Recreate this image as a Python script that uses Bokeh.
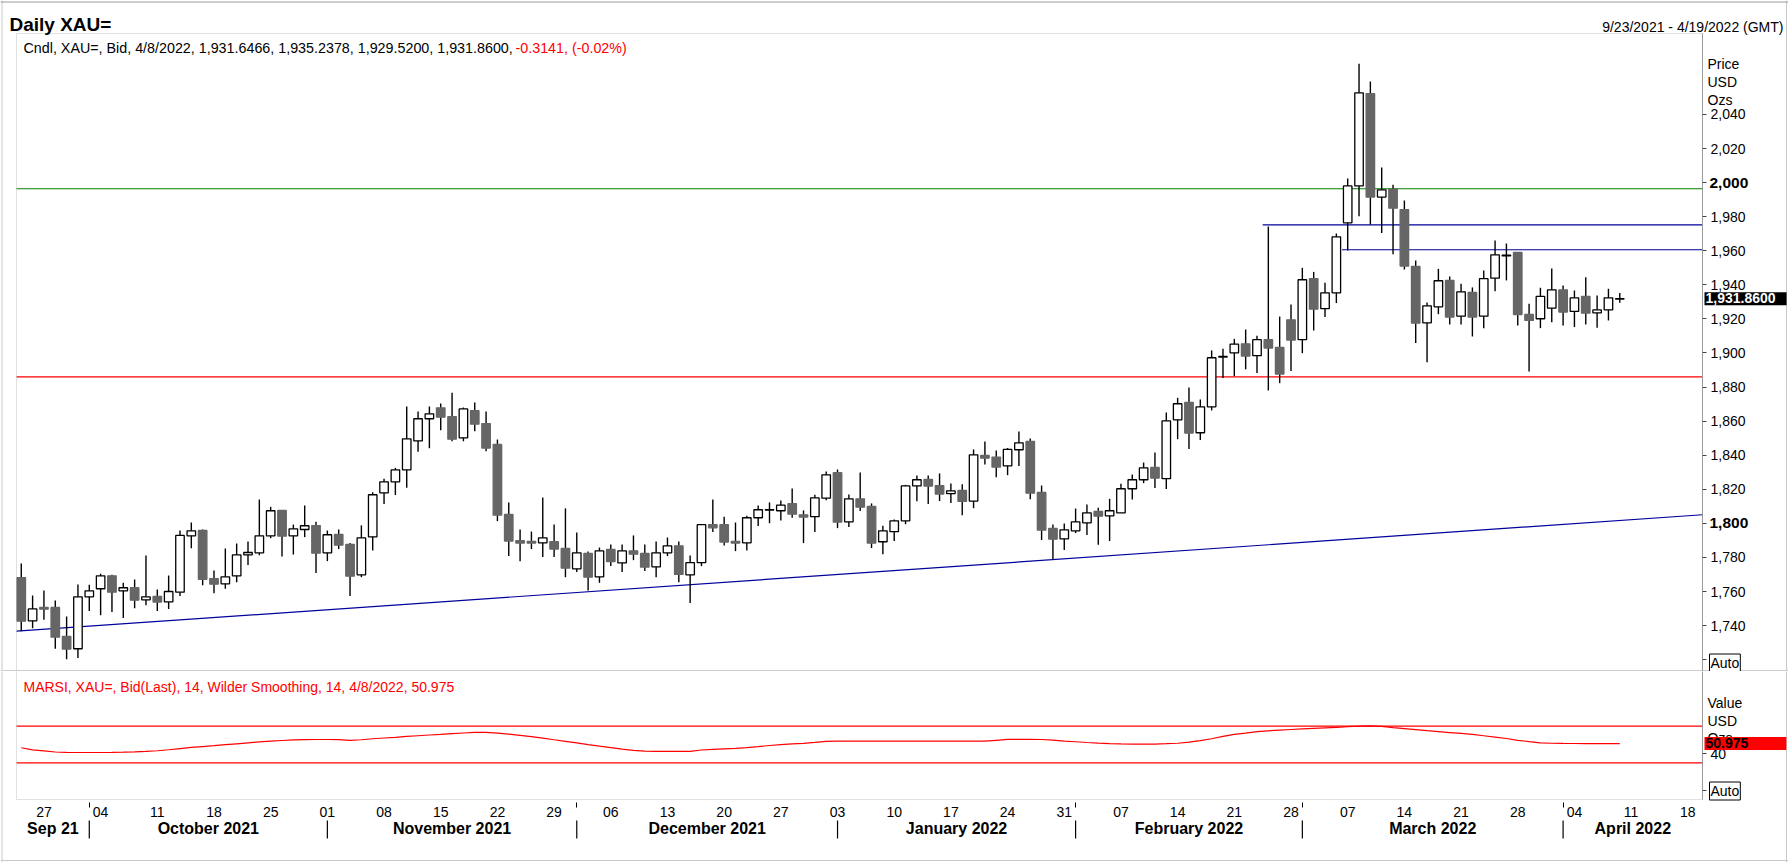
import pandas as pd
from bokeh.plotting import figure
from bokeh.models import (Range1d, LinearAxis, FixedTicker, NumeralTickFormatter,
                          Label, Span, BoxAnnotation, ColumnDataSource)
from bokeh.layouts import column
from bokeh.embed import file_html
from bokeh.resources import INLINE

FONT = "Liberation Sans"

# ---------------- data ----------------
first_day = "2021-09-23"
axis_last_day = "2022-04-19"

opens = [1768.2, 1742.8, 1750.6, 1750.6, 1733.6, 1726.4, 1756.9, 1761.6, 1769.2, 1760.4,
         1762.2, 1755.1, 1757.1, 1753.9, 1759.6, 1792.7, 1795.8, 1767.6, 1764.5, 1769.2,
         1781.5, 1782.7, 1792.7, 1807.6, 1792.7, 1796.4, 1798.7, 1782.7, 1793.5, 1787.6,
         1769.8, 1792.1, 1817.9, 1824.4, 1831.4, 1848.4, 1861.4, 1867.8, 1862.7, 1850.2,
         1866.2, 1858.6, 1846.3, 1805.2, 1789.8, 1789.4, 1788.6, 1789.2, 1785.3, 1773.3,
         1782.3, 1768.6, 1784.7, 1776.8, 1783.9, 1782.3, 1774.5, 1782.7, 1786.8, 1769.8,
         1776.9, 1799.2, 1799.2, 1789.4, 1788.6, 1803.3, 1807.8, 1807.4, 1811.5, 1805.0,
         1803.9, 1814.8, 1829.7, 1800.9, 1814.4, 1809.9, 1789.2, 1795.1, 1801.5, 1822.0,
         1825.8, 1822.2, 1817.4, 1819.3, 1813.1, 1839.9, 1838.9, 1833.8, 1843.2, 1848.1,
         1818.1, 1797.0, 1790.9, 1795.6, 1800.3, 1807.0, 1804.4, 1806.2, 1820.3, 1825.6,
         1832.8, 1826.2, 1860.8, 1871.0, 1853.2, 1868.4, 1897.6, 1900.1, 1905.4, 1898.4,
         1907.8, 1903.3, 1919.5, 1907.8, 1943.7, 1926.0, 1935.3, 1976.4, 1998.1, 2052.3,
         1991.5, 1996.2, 1984.2, 1950.8, 1917.7, 1927.1, 1942.6, 1921.6, 1935.5, 1921.6,
         1943.9, 1957.0, 1959.0, 1922.6, 1920.1, 1926.3, 1937.1, 1924.4, 1933.2, 1923.6,
         1925.3, 1931.6466]
highs = [1776.4, 1757.7, 1760.6, 1754.7, 1745.3, 1764.1, 1763.9, 1770.4, 1769.8, 1765.1,
         1767.1, 1781.1, 1761.2, 1769.4, 1795.8, 1800.5, 1796.4, 1772.3, 1785.2, 1788.2,
         1789.4, 1814.0, 1809.7, 1807.9, 1799.3, 1810.5, 1800.9, 1795.8, 1796.4, 1788.4,
         1798.8, 1818.3, 1826.2, 1832.6, 1868.6, 1865.7, 1868.6, 1870.4, 1876.6, 1868.0,
         1871.0, 1865.7, 1849.2, 1812.3, 1796.4, 1795.2, 1815.2, 1799.4, 1808.8, 1794.6,
         1783.5, 1785.8, 1787.6, 1787.6, 1792.9, 1787.6, 1789.4, 1791.7, 1789.4, 1781.2,
         1799.2, 1814.0, 1803.9, 1800.5, 1804.4, 1810.5, 1812.3, 1813.4, 1820.5, 1807.6,
         1816.8, 1830.5, 1831.6, 1817.0, 1829.9, 1811.7, 1798.6, 1802.3, 1822.6, 1828.1,
         1828.1, 1829.3, 1823.4, 1823.0, 1843.4, 1848.1, 1842.8, 1844.2, 1853.9, 1849.8,
         1822.2, 1799.4, 1799.9, 1808.7, 1811.1, 1809.1, 1814.4, 1823.2, 1828.7, 1835.7,
         1841.6, 1865.1, 1873.7, 1879.8, 1872.7, 1901.5, 1902.5, 1908.3, 1913.8, 1910.1,
         1974.3, 1921.4, 1928.5, 1950.0, 1947.6, 1941.2, 1970.2, 2002.4, 2069.8, 2059.4,
         2008.9, 1998.7, 1989.5, 1954.3, 1929.7, 1949.4, 1944.9, 1940.6, 1938.5, 1948.4,
         1966.1, 1964.3, 1959.0, 1928.9, 1938.3, 1949.6, 1939.6, 1936.7, 1944.5, 1933.8,
         1937.7, 1935.2378]
lows = [1736.7, 1738.5, 1743.4, 1726.4, 1720.3, 1720.9, 1748.5, 1746.1, 1747.9, 1744.4,
        1750.2, 1752.0, 1748.5, 1749.7, 1757.3, 1785.4, 1763.7, 1759.0, 1761.6, 1765.5,
        1775.5, 1781.3, 1791.3, 1780.6, 1781.7, 1791.9, 1770.8, 1777.8, 1784.9, 1757.3,
        1768.4, 1784.1, 1811.3, 1816.6, 1820.9, 1842.0, 1844.1, 1854.7, 1848.2, 1848.2,
        1854.1, 1842.4, 1801.3, 1780.8, 1777.8, 1784.9, 1780.2, 1780.2, 1768.4, 1771.4,
        1760.6, 1765.1, 1774.9, 1771.4, 1778.4, 1772.0, 1768.4, 1780.8, 1765.5, 1753.2,
        1774.9, 1794.9, 1787.0, 1783.7, 1784.1, 1798.4, 1800.1, 1801.7, 1803.3, 1788.4,
        1794.9, 1813.6, 1797.2, 1797.8, 1807.2, 1785.5, 1781.9, 1789.6, 1799.5, 1813.0,
        1811.3, 1813.1, 1811.9, 1804.8, 1808.9, 1834.6, 1827.1, 1828.3, 1833.6, 1814.2,
        1790.2, 1778.6, 1784.3, 1794.3, 1793.1, 1787.4, 1789.6, 1806.2, 1814.0, 1823.6,
        1820.7, 1820.1, 1849.4, 1843.6, 1848.9, 1866.3, 1885.3, 1886.4, 1890.4, 1888.2,
        1878.0, 1882.3, 1889.4, 1899.9, 1913.2, 1921.1, 1929.3, 1960.2, 1980.3, 1975.5,
        1970.4, 1958.0, 1949.0, 1905.8, 1894.6, 1922.8, 1916.8, 1916.8, 1909.7, 1914.6,
        1936.3, 1942.6, 1916.2, 1889.1, 1914.6, 1918.1, 1916.1, 1915.2, 1916.7, 1914.8,
        1919.1, 1929.52]
closes = [1742.6, 1749.8, 1749.6, 1733.2, 1726.2, 1756.9, 1760.4, 1769.2, 1759.6, 1762.2,
          1754.9, 1756.9, 1753.8, 1760.0, 1792.9, 1795.6, 1767.2, 1764.3, 1768.6, 1781.5,
          1782.9, 1792.7, 1807.4, 1792.5, 1796.8, 1798.6, 1782.5, 1793.3, 1787.2, 1769.0,
          1791.5, 1816.8, 1824.4, 1831.4, 1849.6, 1861.4, 1864.3, 1862.3, 1849.4, 1867.2,
          1858.2, 1844.2, 1804.8, 1789.6, 1788.4, 1788.4, 1791.5, 1784.9, 1773.7, 1782.7,
          1768.4, 1783.9, 1777.6, 1783.9, 1781.9, 1774.3, 1782.7, 1786.8, 1770.0, 1776.9,
          1799.2, 1797.4, 1789.0, 1788.4, 1803.3, 1808.0, 1808.1, 1810.7, 1805.4, 1803.7,
          1815.0, 1828.5, 1800.7, 1814.4, 1809.5, 1788.4, 1795.6, 1801.5, 1822.0, 1825.6,
          1821.9, 1817.2, 1819.1, 1812.9, 1840.2, 1838.3, 1833.0, 1843.4, 1847.3, 1817.7,
          1796.0, 1790.7, 1796.2, 1800.9, 1806.2, 1804.2, 1807.4, 1820.3, 1825.6, 1832.6,
          1826.6, 1860.2, 1870.2, 1853.0, 1868.4, 1897.2, 1898.0, 1905.2, 1898.2, 1907.8,
          1902.9, 1887.6, 1907.6, 1943.0, 1925.7, 1935.3, 1968.2, 1998.1, 2052.7, 1991.5,
          1995.8, 1985.0, 1951.0, 1917.5, 1927.7, 1942.4, 1921.1, 1935.9, 1921.1, 1943.6,
          1957.6, 1957.4, 1922.6, 1919.1, 1933.2, 1937.1, 1924.0, 1932.4, 1923.4, 1925.3,
          1932.4, 1931.86]
rsi = [46.5, 44.2, 43.0, 41.8, 41.5, 41.3, 41.3, 41.3, 41.4, 41.6,
       42.0, 42.5, 43.2, 44.3, 45.6, 46.9, 47.8, 48.7, 49.8, 50.8,
       51.8, 52.8, 53.7, 54.4, 55.0, 55.4, 55.5, 55.5, 55.4, 54.6,
       55.2, 56.3, 57.1, 57.9, 58.8, 59.6, 60.4, 61.0, 61.8, 62.6,
       63.2, 63.2, 62.4, 61.3, 60.0, 58.6, 57.0, 55.2, 53.5, 51.8,
       49.9, 48.2, 46.6, 45.0, 43.5, 42.8, 42.5, 42.4, 42.4, 42.6,
       44.0, 44.6, 45.2, 45.7, 46.6, 47.7, 48.9, 49.8, 50.6, 51.3,
       52.3, 53.4, 53.6, 53.6, 53.6, 53.6, 53.6, 53.6, 53.6, 53.6,
       53.6, 53.6, 53.6, 53.6, 53.6, 53.6, 54.6, 55.6, 55.7, 55.7,
       55.5, 54.7, 53.8, 53.0, 52.2, 51.5, 51.0, 50.7, 50.5, 50.4,
       50.5, 50.9, 51.4, 52.6, 54.2, 56.3, 58.9, 61.0, 62.4, 64.0,
       65.0, 65.8, 66.4, 67.0, 67.6, 68.2, 68.8, 69.5, 70.2, 70.3,
       69.9, 68.4, 67.4, 66.3, 65.1, 64.1, 63.1, 62.1, 61.0, 59.6,
       58.1, 56.6, 54.6, 53.2, 51.9, 51.4, 51.2, 51.1, 51.0, 51.0,
       51.0, 50.975]

level_green = 1996.4
level_red = 1886.0
blue_levels = [1975.2, 1960.6]
blue_level_start_days = ["2022-02-24", "2022-03-07"]
trend_days = ["2021-09-23", "2022-04-19"]
trend_values = [1736.9, 1804.9]

price_ticks = [1720, 1740, 1760, 1780, 1800, 1820, 1840, 1860, 1880, 1900,
               1920, 1940, 1960, 1980, 2000, 2020, 2040]
bold_price_ticks = [1800, 2000]
rsi_levels = [70, 30]
rsi_ticks = [0, 40]
month_labels = ["Sep 21", "October 2021", "November 2021", "December 2021",
                "January 2022", "February 2022", "March 2022", "April 2022"]

header_black = "Cndl, XAU=, Bid, 4/8/2022, 1,931.6466, 1,935.2378, 1,929.5200, 1,931.8600, "
header_red = "-0.3141, (-0.02%)"
rsi_header = "MARSI, XAU=, Bid(Last),  14, Wilder Smoothing, 14, 4/8/2022, 50.975"
date_span_text = "9/23/2021 - 4/19/2022 (GMT)"

# ---------------- derived ----------------
days = pd.bdate_range(first_day, axis_last_day)
day_pos = {d: i for i, d in enumerate(days)}
n = len(closes)
idx = list(range(n))

monday_idx = [i for i, d in enumerate(days) if d.weekday() == 0]
day_label_map = {i: "%02d" % days[i].day for i in monday_idx}
month_start_idx = [i for i in range(1, len(days)) if days[i].month != days[i - 1].month]
short_tick_idx = [i for i in month_start_idx if i not in monday_idx]

# plot-area (frame box) edges in day-index units and the full canvas extent
X0, X1 = -0.42, 148.3
PX_PER_DAY = 11.337
CX0 = X0 - 16 / PX_PER_DAY
CX1 = CX0 + 1788 / PX_PER_DAY

bounds = [X0] + month_start_idx + [X1]
month_centers = [(bounds[k] + bounds[k + 1]) / 2 for k in range(len(bounds) - 1)]
month_map = {c: lab for c, lab in zip(month_centers, month_labels)}

bull = [c >= o for o, c in zip(opens, closes)]
GRAY = "#666666"
src = ColumnDataSource(dict(
    x=idx, high=highs, low=lows,
    top=[max(o, c) for o, c in zip(opens, closes)],
    bottom=[min(o, c) for o, c in zip(opens, closes)],
    fill=["white" if b else GRAY for b in bull],
    line=["black" if b else GRAY for b in bull],
))

W = 1788
H1 = 671
H2 = 191
FRAME_GRAY = "#9a9a9a"
OUTER_GRAY = "#c8c8c8"
BLUE = "#00009c"
xr = Range1d(CX0, CX1)

P_TOP, P_BOT = 2087.55, 1713.04        # price panel box
R_TOP, R_BOT = 129.8, -10.1            # rsi panel box
RSI_PX = 0.915


def base_fig(h, yr):
    f = figure(width=W, height=h, x_range=xr, y_range=yr,
               output_backend="svg", toolbar_location=None, title=None,
               x_axis_location=None, y_axis_location=None,
               min_border_left=0, min_border_right=0, min_border_top=0, min_border_bottom=0,
               outline_line_color=None, background_fill_color="white",
               border_fill_color="white")
    f.grid.visible = False
    return f


def lab(fig, x, y, text, **kw):
    opts = dict(x=x, y=y, x_units="screen", y_units="screen", text=text,
                text_font=FONT, text_font_size="14px", text_color="black",
                text_baseline="alphabetic", text_align="left")
    opts.update(kw)
    fig.add_layout(Label(**opts))


def date_axis(ticks, labels, loc, tick_out, standoff, size="14px", style="normal"):
    return LinearAxis(ticker=FixedTicker(ticks=ticks, minor_ticks=[]),
                      major_label_overrides=labels, fixed_location=loc,
                      major_tick_out=tick_out, major_tick_in=0,
                      minor_tick_out=0, minor_tick_in=0,
                      major_tick_line_color="black", axis_line_color=None,
                      major_label_standoff=standoff, major_label_text_font=FONT,
                      major_label_text_font_size=size, major_label_text_font_style=style,
                      major_label_text_color="black")


# ---------------- price panel ----------------
p1 = base_fig(H1, Range1d(P_BOT, 2040 + 114 / 1.7036))

p1.add_layout(BoxAnnotation(left=X0, right=X1, top=P_TOP, bottom=P_BOT - 20,
                            fill_color=None, line_color=FRAME_GRAY, line_width=1))
p1.add_layout(Span(location=0.5, location_units="screen", dimension="width",
                   line_color=FRAME_GRAY, line_width=1))
p1.add_layout(Span(location=1.5, location_units="screen", dimension="height",
                   line_color=OUTER_GRAY, line_width=1))
p1.add_layout(Span(location=1786, location_units="screen", dimension="height",
                   line_color=OUTER_GRAY, line_width=1))
p1.add_layout(Span(location=H1 - 1.5, location_units="screen", dimension="width",
                   line_color=FRAME_GRAY, line_width=1))

p1.segment(x0=[X0, X0], y0=[level_green, level_red], x1=[X1, X1], y1=[level_green, level_red],
           line_color=["#008000", "#ff0000"], line_width=1.2)
tx = [day_pos[pd.Timestamp(d)] for d in trend_days]
grad = (trend_values[1] - trend_values[0]) / (tx[1] - tx[0])
p1.segment(x0=[X0], y0=[trend_values[0] + grad * (X0 - tx[0])],
           x1=[X1], y1=[trend_values[0] + grad * (X1 - tx[0])],
           line_color=BLUE, line_width=1.2)
blue_x0 = [day_pos[pd.Timestamp(d)] - 0.5 for d in blue_level_start_days]
p1.segment(x0=blue_x0, y0=blue_levels, x1=[X1] * 2, y1=blue_levels,
           line_color=BLUE, line_width=1.2)

p1.segment(x0="x", y0="low", x1="x", y1="high", source=src, line_color="black", line_width=1.4)
p1.vbar(x="x", width=0.75, top="top", bottom="bottom", source=src,
        fill_color="fill", line_color="line", line_width=1.3)

ya = LinearAxis(ticker=FixedTicker(ticks=price_ticks, minor_ticks=[]),
                formatter=NumeralTickFormatter(format="0,0"),
                major_label_overrides={1720: "", 1800: "", 2000: ""},
                fixed_location=X1, bounds=(P_BOT, P_TOP),
                axis_line_color=FRAME_GRAY, major_tick_line_color="#444444",
                major_tick_out=4, major_tick_in=0, major_label_standoff=4,
                major_label_text_font=FONT, major_label_text_font_size="14px",
                major_label_text_color="black")
p1.add_layout(ya, "right")

lab(p1, 9, H1 - 24, "Daily XAU=", text_font_size="19px", text_font_style="bold")
lab(p1, 1783, H1 - 26, date_span_text, text_align="right")
lab(p1, 23, H1 - 47, header_black, text_font_size="14.3px")
lab(p1, 515, H1 - 47, header_red, text_color="#ff0000", text_font_size="14.3px")
lab(p1, 1707, H1 - 63, "Price")
lab(p1, 1707, H1 - 81, "USD")
lab(p1, 1707, H1 - 99, "Ozs")
for t in bold_price_ticks:
    lab(p1, 1709, t, "{:,}".format(t), y_units="data", text_font_style="bold",
        text_baseline="middle", text_font_size="15.5px")
lab(p1, 1709, H1 - 662.5, "Auto", text_baseline="middle", background_fill_color="white",
    border_line_color="black", padding=1)
lab(p1, 1704, closes[-1], "{:,.4f}".format(closes[-1]), y_units="data",
    text_baseline="middle", text_font_style="bold", text_color="white",
    background_fill_color="black", padding=(1, 11, 1, 2))

# ---------------- RSI panel + date axes ----------------
p2 = base_fig(H2, Range1d(R_TOP - H2 / RSI_PX, R_TOP))
p2.add_layout(BoxAnnotation(left=X0, right=X1, top=R_TOP + 20, bottom=R_BOT,
                            fill_color=None, line_color=FRAME_GRAY, line_width=1))
p2.add_layout(Span(location=1.5, location_units="screen", dimension="height",
                   line_color=OUTER_GRAY, line_width=1))
p2.add_layout(Span(location=1786, location_units="screen", dimension="height",
                   line_color=OUTER_GRAY, line_width=1))
p2.add_layout(Span(location=2, location_units="screen", dimension="width",
                   line_color=OUTER_GRAY, line_width=1))

p2.segment(x0=[X0] * 2, y0=rsi_levels, x1=[X1] * 2, y1=rsi_levels,
           line_color="#ff0000", line_width=1.2)
p2.line(idx, rsi, line_color="#ff0000", line_width=1.2)

ya2 = LinearAxis(ticker=FixedTicker(ticks=rsi_ticks, minor_ticks=[]),
                 major_label_overrides={0: "", 40: "40"},
                 fixed_location=X1, bounds=(R_BOT, R_TOP),
                 axis_line_color=FRAME_GRAY, major_tick_line_color="#444444",
                 major_tick_out=4, major_tick_in=0, major_label_standoff=4,
                 major_label_text_font=FONT, major_label_text_font_size="14px",
                 major_label_text_color="black")
p2.add_layout(ya2, "right")

# month names
p2.add_layout(date_axis(month_centers, month_map, R_BOT - 20 / RSI_PX, 0, 0,
                        size="16px", style="bold"), "below")
# day numbers under the plot
p2.add_layout(date_axis(monday_idx, day_label_map, R_BOT, 0, 7), "below")
# short month-boundary ticks in the day row
p2.add_layout(date_axis(short_tick_idx, {i: "" for i in short_tick_idx},
                        R_BOT - 2.5 / RSI_PX, 5, 0), "below")
# month separators in the month row, as thin filled annotation boxes
half_w = 0.6 / PX_PER_DAY
for m in month_start_idx:
    p2.add_layout(BoxAnnotation(left=m - half_w, right=m + half_w,
                                top=R_BOT - 21 / RSI_PX, bottom=R_BOT - 39 / RSI_PX,
                                fill_color="black", fill_alpha=1.0,
                                line_color=None))

lab(p2, 23, H2 - 15.7, rsi_header, text_color="#ff0000")
lab(p2, 1707, H2 - 31.3, "Value")
lab(p2, 1707, H2 - 49, "USD")
lab(p2, 1707, H2 - 66, "Ozs")
lab(p2, 1704, rsi[-1], "{:.3f}".format(rsi[-1]), y_units="data", text_baseline="middle",
    text_font_style="bold", text_color="black", background_fill_color="#ff0000",
    padding=(1, 38, 1, 2))
lab(p2, 1709, H2 - 119.5, "Auto", text_baseline="middle", background_fill_color="white",
    border_line_color="black", padding=1)

layout = column(p1, p2)
open("out.html", "w").write(file_html(layout, INLINE))
